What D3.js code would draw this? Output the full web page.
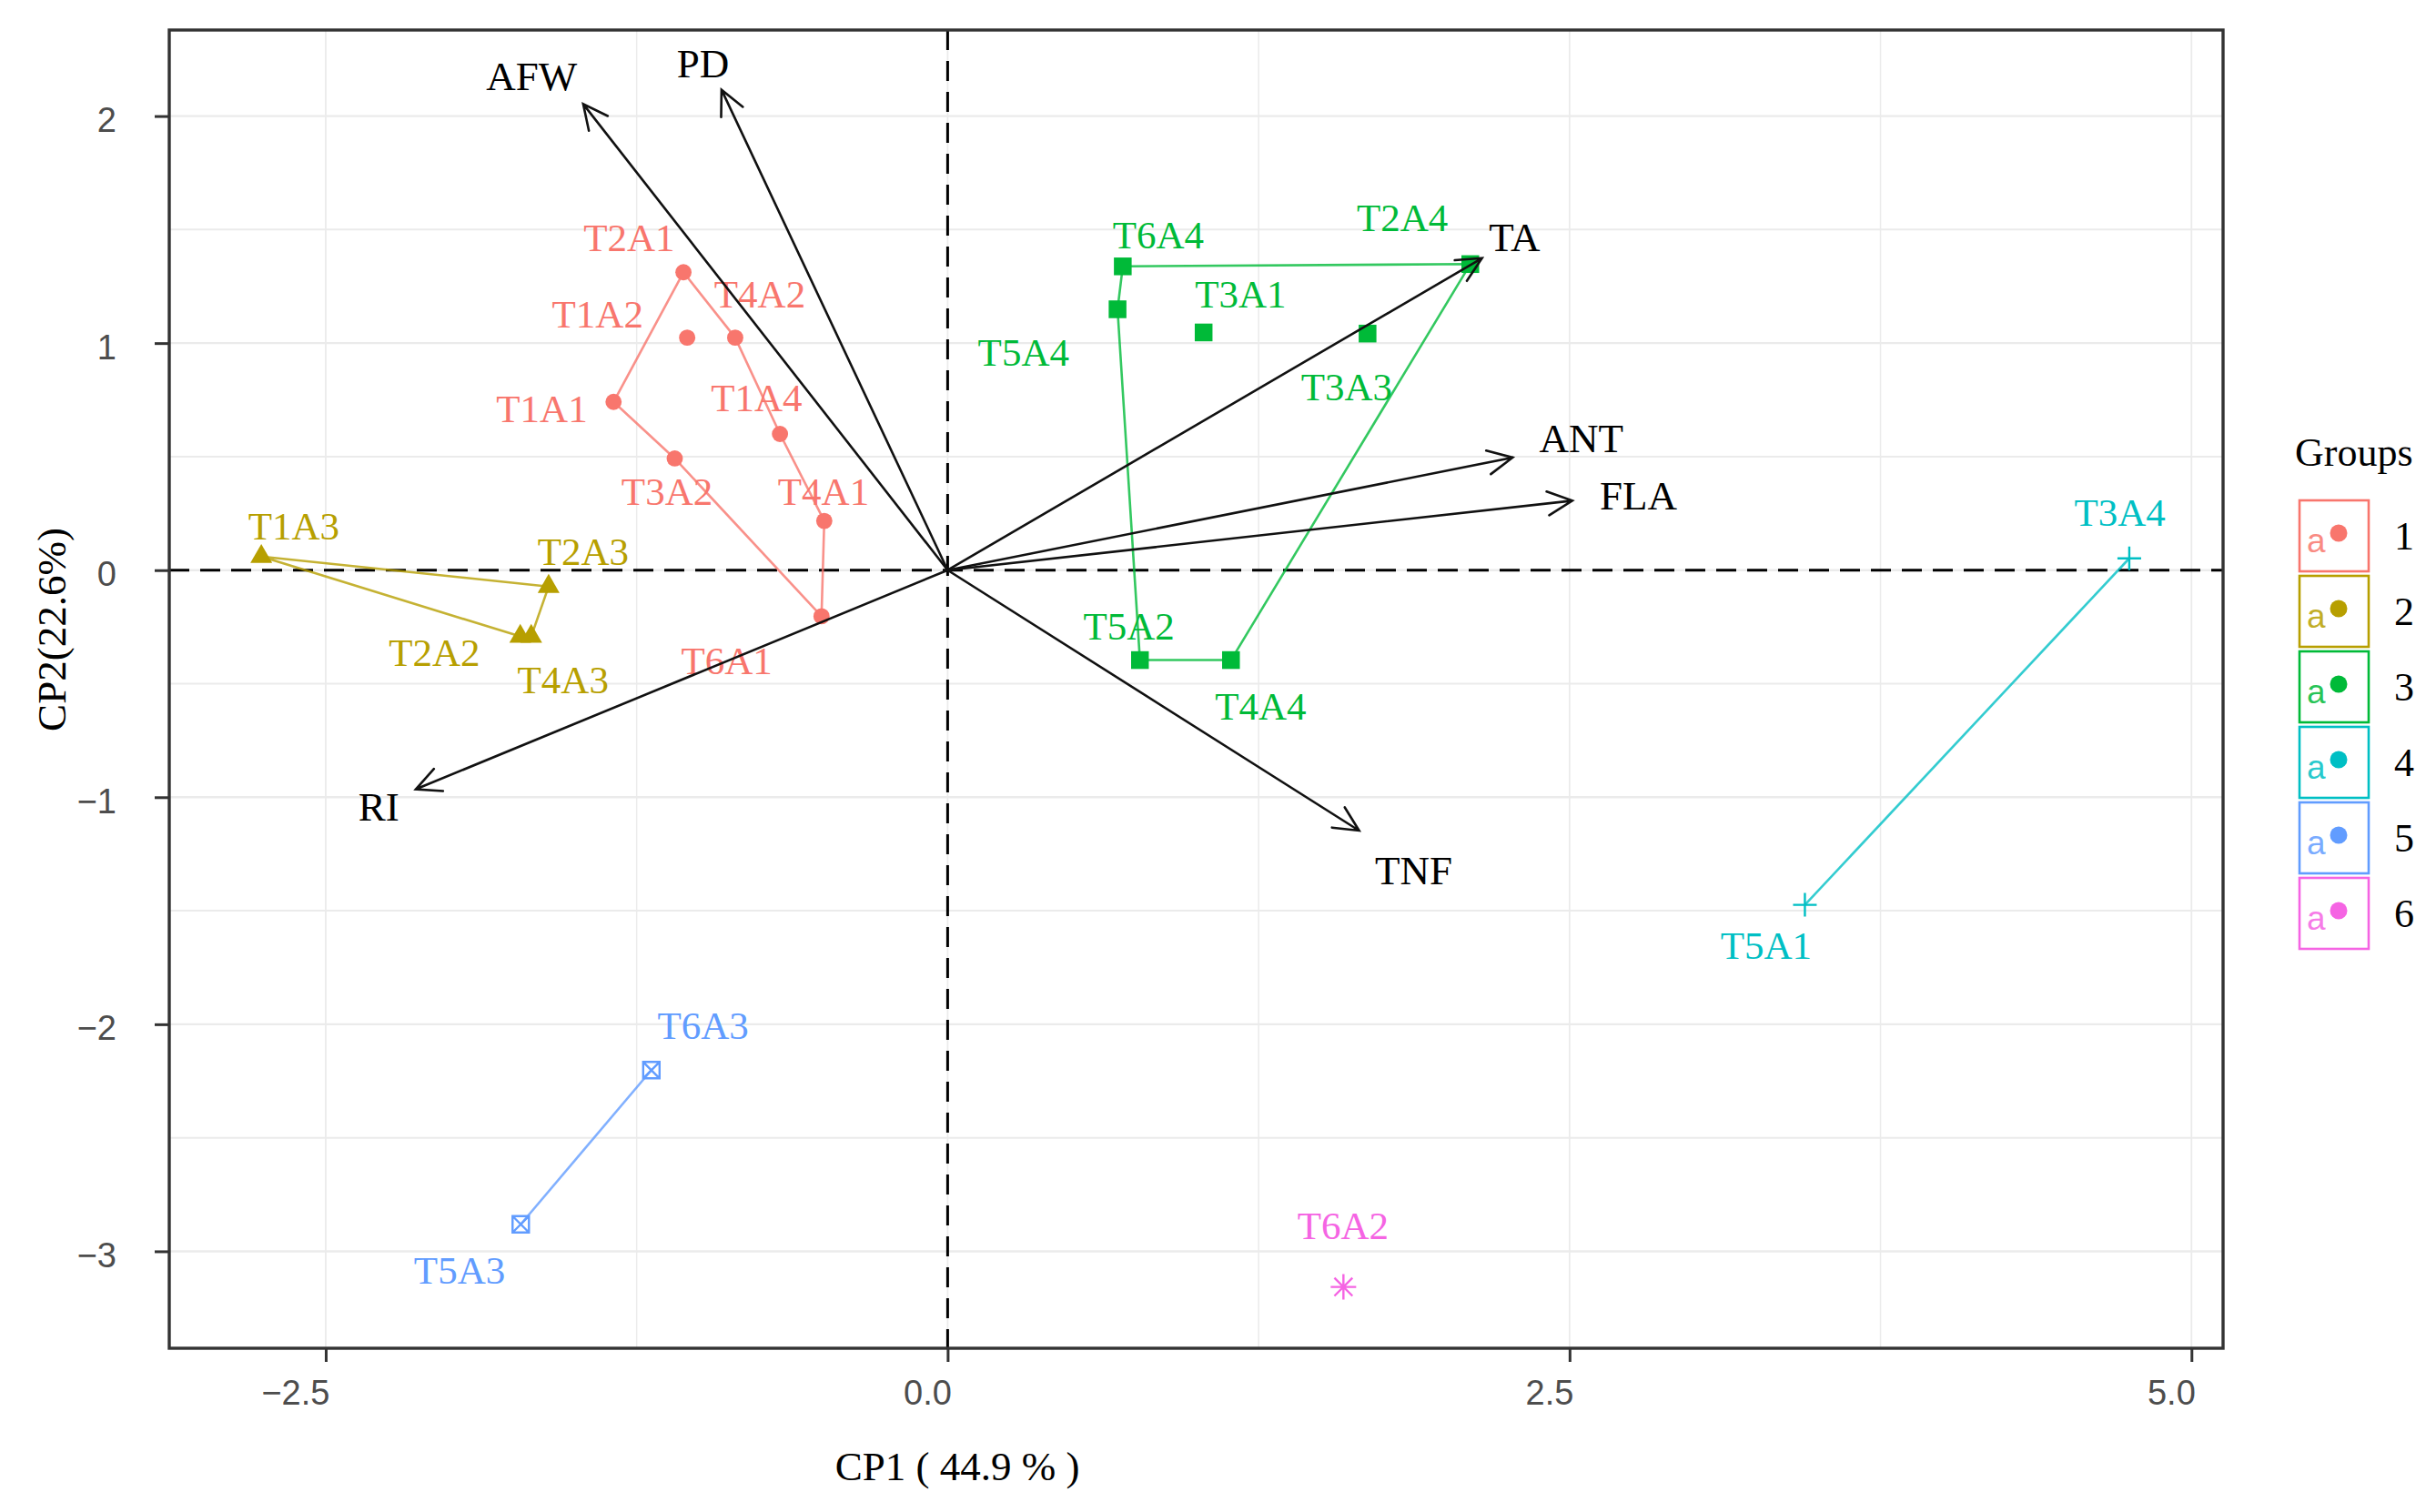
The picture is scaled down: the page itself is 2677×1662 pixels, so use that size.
<!DOCTYPE html>
<html>
<head>
<meta charset="utf-8">
<script src="https://cdn.jsdelivr.net/npm/d3@7"></script>
<style>
html,body{margin:0;padding:0;background:#fff;}
svg{display:block;}
</style>
</head>
<body>
<svg id="chart" width="2677" height="1662"></svg>
<script>
// ---------------- DATA ----------------
const groupIds = ["1","2","3","4","5","6"];
const groupColors = ["#F8766D","#B79F00","#00BA38","#00BFC4","#619CFF","#F564E3"];
const groupShapes = ["circle","triangle","square","plus","squareX","asterisk"];

const sampleNames = ["T2A1","T1A2","T4A2","T1A1","T1A4","T3A2","T4A1","T6A1",
                     "T1A3","T2A3","T2A2","T4A3",
                     "T6A4","T5A4","T3A1","T3A3","T2A4","T5A2","T4A4",
                     "T3A4","T5A1",
                     "T6A3","T5A3",
                     "T6A2"];
const sampleGroup = ["1","1","1","1","1","1","1","1",
                     "2","2","2","2",
                     "3","3","3","3","3","3","3",
                     "4","4",
                     "5","5",
                     "6"];
const cp1 = [-1.062,-1.047,-0.854,-1.343,-0.674,-1.097,-0.496,-0.507,
             -2.759,-1.604,-1.718,-1.674,
             0.704,0.683,1.029,1.688,2.101,0.773,1.139,
             4.750,3.446,
             -1.191,-1.716,
             1.591];
const cp2 = [1.312,1.024,1.024,0.741,0.600,0.492,0.217,-0.203,
             0.060,-0.072,-0.292,-0.292,
             1.338,1.149,1.047,1.042,1.348,-0.396,-0.396,
             0.052,-1.474,
             -2.202,-2.881,
             -3.157];
// label anchor positions (repelled text) in CP units
const labelCp1 = [-1.280,-1.407,-0.755,-1.631,-0.768,-1.128,-0.499,-0.888,
                  -2.628,-1.465,-2.063,-1.546,
                  0.847,0.305,1.178,1.604,1.828,0.729,1.258,
                  4.712,3.290,
                  -0.983,-1.962,
                  1.589];
const labelCp2 = [1.465,1.131,1.218,0.713,0.761,0.347,0.347,-0.397,
                  0.196,0.083,-0.360,-0.483,
                  1.478,0.962,1.218,0.809,1.555,-0.247,-0.596,
                  0.255,-1.652,
                  -2.006,-3.082,
                  -2.885];
// convex hull vertex order of each group
const hullMembers = [
  ["T2A1","T4A2","T1A4","T4A1","T6A1","T3A2","T1A1"],
  ["T1A3","T2A3","T4A3","T2A2"],
  ["T6A4","T2A4","T4A4","T5A2","T5A4"],
  ["T3A4","T5A1"],
  ["T6A3","T5A3"],
  ["T6A2"]
];

const varNames = ["AFW","PD","TA","ANT","FLA","TNF","RI"];
const varCp1 = [-1.465,-0.909,2.148,2.271,2.511,1.654,-2.138];
const varCp2 = [2.053,2.116,1.374,0.496,0.306,-1.147,-0.965];
const varLabelCp1 = [-1.672,-0.984,2.279,2.547,2.777,1.873,-2.287];
const varLabelCp2 = [2.178,2.233,1.469,0.582,0.330,-1.320,-1.041];

const xTicks = [-2.5, 0, 2.5, 5];
const xTickLabels = ["\u22122.5","0.0","2.5","5.0"];
const xMinor = [-1.25, 1.25, 3.75];
const yTicks = [-3,-2,-1,0,1,2];
const yTickLabels = ["\u22123","\u22122","\u22121","0","1","2"];
const yMinor = [-2.5,-1.5,-0.5,0.5,1.5];

const xTitle = "CP1 ( 44.9 % )";
const yTitle = "CP2(22.6%)";
const legendTitle = "Groups";

// ---------------- LAYOUT ----------------
const svg = d3.select("#chart");
svg.append("rect").attr("width",2677).attr("height",1662).attr("fill","#fff");

const P = {left:186, right:2443, top:33, bottom:1482};
const x = d3.scaleLinear().domain([-3.129, 5.127]).range([P.left, P.right]);
const y = d3.scaleLinear().domain([2.379, -3.427]).range([P.top, P.bottom]);

const serif = "'Liberation Serif','Times New Roman',serif";
const narrow = "'Liberation Sans Narrow','Arial Narrow','Liberation Sans',sans-serif";

const colorOf = d3.scaleOrdinal().domain(groupIds).range(groupColors);
const shapeOf = d3.scaleOrdinal().domain(groupIds).range(groupShapes);

const samples = sampleNames.map((n,i)=>({name:n, g:sampleGroup[i], x:cp1[i], y:cp2[i], lx:labelCp1[i], ly:labelCp2[i]}));
const byName = new Map(samples.map(d=>[d.name,d]));

// grid
const grid = svg.append("g");
grid.selectAll(".gxm").data(xMinor).join("line")
  .attr("x1",d=>x(d)).attr("x2",d=>x(d)).attr("y1",P.top).attr("y2",P.bottom)
  .attr("stroke","#EBEBEB").attr("stroke-width",1.5);
grid.selectAll(".gym").data(yMinor).join("line")
  .attr("y1",d=>y(d)).attr("y2",d=>y(d)).attr("x1",P.left).attr("x2",P.right)
  .attr("stroke","#EBEBEB").attr("stroke-width",2);
grid.selectAll(".gx").data(xTicks).join("line")
  .attr("x1",d=>x(d)).attr("x2",d=>x(d)).attr("y1",P.top).attr("y2",P.bottom)
  .attr("stroke","#EBEBEB").attr("stroke-width",1.8);
grid.selectAll(".gy").data(yTicks).join("line")
  .attr("y1",d=>y(d)).attr("y2",d=>y(d)).attr("x1",P.left).attr("x2",P.right)
  .attr("stroke","#EBEBEB").attr("stroke-width",2.4);

// dashed reference lines
svg.append("line").attr("x1",P.left).attr("x2",P.right).attr("y1",y(0)).attr("y2",y(0))
  .attr("stroke","#000").attr("stroke-width",3).attr("stroke-dasharray","22,12");
svg.append("line").attr("x1",x(0)).attr("x2",x(0)).attr("y1",P.top).attr("y2",P.bottom)
  .attr("stroke","#000").attr("stroke-width",3).attr("stroke-dasharray","22,12");

// hulls
const hullG = svg.append("g");
hullMembers.forEach((members,gi)=>{
  const pts = members.map(n=>{const d=byName.get(n); return [x(d.x), y(d.y)];});
  if (pts.length < 2) return;
  const closed = pts.length > 2;
  hullG.append("path")
    .attr("d", d3.line()(closed ? pts.concat([pts[0]]) : pts))
    .attr("fill","none")
    .attr("stroke", groupColors[gi])
    .attr("stroke-opacity",0.8)
    .attr("stroke-width",2.6)
    .attr("stroke-linejoin","round");
});

// point symbols
function shapePath(shape){
  const p = d3.path();
  if (shape==="plus"){ const r=13; p.moveTo(-r,0); p.lineTo(r,0); p.moveTo(0,-r); p.lineTo(0,r); return p.toString(); }
  if (shape==="squareX"){ const r=9; p.rect(-r,-r,2*r,2*r); p.moveTo(-r,-r); p.lineTo(r,r); p.moveTo(r,-r); p.lineTo(-r,r); return p.toString(); }
  if (shape==="asterisk"){ const r=14, q=r*Math.SQRT1_2; p.moveTo(-r,0); p.lineTo(r,0); p.moveTo(0,-r); p.lineTo(0,r);
    p.moveTo(-q,-q); p.lineTo(q,q); p.moveTo(q,-q); p.lineTo(-q,q); return p.toString(); }
  if (shape==="circle") return d3.symbol(d3.symbolCircle, 250)();
  if (shape==="triangle") return d3.symbol(d3.symbolTriangle, 250)();
  return d3.symbol(d3.symbolSquare, 380)();
}
const filledShapes = new Set(["circle","triangle","square"]);

svg.append("g").selectAll("path").data(samples).join("path")
  .attr("transform",d=>`translate(${x(d.x)},${y(d.y)})`)
  .attr("d",d=>shapePath(shapeOf(d.g)))
  .attr("fill",d=>filledShapes.has(shapeOf(d.g)) ? colorOf(d.g) : "none")
  .attr("stroke",d=>filledShapes.has(shapeOf(d.g)) ? "none" : colorOf(d.g))
  .attr("stroke-width",2.4);

// sample labels
svg.append("g").selectAll("text").data(samples).join("text")
  .attr("x",d=>x(d.lx)).attr("y",d=>y(d.ly))
  .attr("dy","0.35em")
  .attr("text-anchor","middle")
  .attr("font-family",serif).attr("font-size",43)
  .attr("fill",d=>colorOf(d.g))
  .text(d=>d.name);

// variable arrows
const vars = varNames.map((n,i)=>({name:n, x:varCp1[i], y:varCp2[i], lx:varLabelCp1[i], ly:varLabelCp2[i]}));
const arrowG = svg.append("g").attr("stroke","#111").attr("stroke-width",2.6).attr("fill","none").attr("stroke-linecap","round");
vars.forEach(v=>{
  const x0=x(0), y0=y(0), x1=x(v.x), y1=y(v.y);
  const ang = Math.atan2(y1-y0, x1-x0);
  const L = 30, a = 26*Math.PI/180;
  const p = d3.path();
  p.moveTo(x0,y0); p.lineTo(x1,y1);
  p.moveTo(x1 - L*Math.cos(ang-a), y1 - L*Math.sin(ang-a)); p.lineTo(x1,y1);
  p.lineTo(x1 - L*Math.cos(ang+a), y1 - L*Math.sin(ang+a));
  arrowG.append("path").attr("d",p.toString());
});
svg.append("g").selectAll("text").data(vars).join("text")
  .attr("x",d=>x(d.lx)).attr("y",d=>y(d.ly)).attr("dy","0.35em")
  .attr("text-anchor","middle")
  .attr("font-family",serif).attr("font-size",45).attr("fill","#000")
  .text(d=>d.name);

// panel border
svg.append("rect").attr("x",P.left).attr("y",P.top)
  .attr("width",P.right-P.left).attr("height",P.bottom-P.top)
  .attr("fill","none").attr("stroke","#333").attr("stroke-width",3.4);

// axes
const xAxis = svg.append("g").attr("transform",`translate(0,${P.bottom})`)
  .call(d3.axisBottom(x).tickValues(xTicks).tickSize(15).tickPadding(20)
        .tickFormat((d,i)=>xTickLabels[i]));
xAxis.select(".domain").remove();
xAxis.selectAll("line").attr("stroke","#333").attr("stroke-width",3);
xAxis.selectAll("text").attr("font-family",narrow).attr("font-size",38).attr("fill","#4D4D4D")
  .attr("text-anchor","end").attr("x",4);

const yAxis = svg.append("g").attr("transform",`translate(${P.left},0)`)
  .call(d3.axisLeft(y).tickValues(yTicks).tickSize(16).tickPadding(42)
        .tickFormat((d,i)=>yTickLabels[i]));
yAxis.select(".domain").remove();
yAxis.selectAll("line").attr("stroke","#333").attr("stroke-width",3);
yAxis.selectAll("text").attr("font-family",narrow).attr("font-size",38).attr("fill","#4D4D4D")
  .attr("dy","0.45em");

// axis titles
svg.append("text").attr("x",1052).attr("y",1627).attr("text-anchor","middle")
  .attr("font-family",serif).attr("font-size",45).attr("fill","#000").text(xTitle);
svg.append("text").attr("transform","translate(72,692) rotate(-90)").attr("text-anchor","middle")
  .attr("font-family",serif).attr("font-size",45).attr("fill","#000").text(yTitle);

// legend
const lg = svg.append("g");
lg.append("text").attr("x",2522).attr("y",512).attr("font-family",serif).attr("font-size",44)
  .attr("fill","#000").text(legendTitle);
const keyTop = 550, keyPitch = 83, keyH = 78, keyW = 76, keyX = 2527;
const keys = lg.selectAll("g.key").data(groupIds).join("g")
  .attr("transform",(d,i)=>`translate(${keyX},${keyTop + i*keyPitch})`);
keys.append("rect").attr("x",0).attr("y",0).attr("width",keyW).attr("height",keyH)
  .attr("fill","#fff").attr("stroke",d=>colorOf(d)).attr("stroke-width",2.6);
keys.append("text").attr("x",8).attr("y",keyH/2+18)
  .attr("font-family","'Liberation Sans',Arial,sans-serif").attr("font-size",37)
  .attr("fill",d=>colorOf(d)).attr("fill-opacity",0.85).text("a");
keys.append("circle").attr("cx",43).attr("cy",keyH/2-3).attr("r",9.5).attr("fill",d=>colorOf(d));
keys.append("text").attr("x",104).attr("y",keyH/2).attr("dy","0.35em")
  .attr("font-family",serif).attr("font-size",44).attr("fill","#000").text(d=>d);
</script>
</body>
</html>
